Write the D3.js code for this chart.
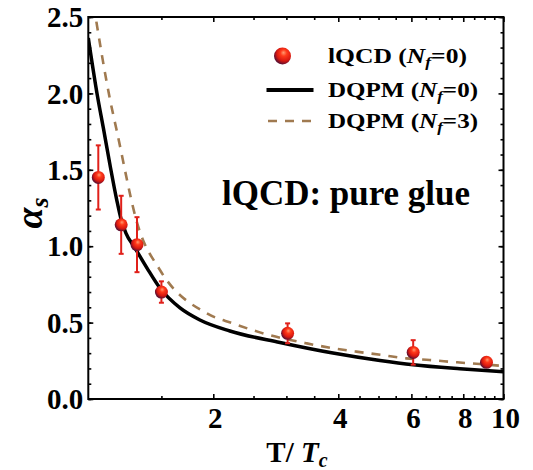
<!DOCTYPE html>
<html><head><meta charset="utf-8">
<script src="https://cdn.jsdelivr.net/npm/d3@7"></script>
<style>
html,body{margin:0;padding:0;background:#fff;}
</style></head>
<body>
<svg id="chart" width="533" height="470"></svg>
<script>
// ---- data ----
const lqcdT   = [1.057, 1.20, 1.31, 1.50, 3.02, 6.06, 9.10];
const lqcdA   = [1.45, 1.14, 1.01, 0.70, 0.43, 0.305, 0.24];
const lqcdErr = [0.21, 0.19, 0.18, 0.07, 0.065, 0.08, 0.02];

const dqpm0T = [1.00, 1.051, 1.087, 1.128, 1.171, 1.199, 1.232, 1.296, 1.385, 1.488, 1.663, 1.857, 2.193, 2.894, 3.883, 5.04, 6.06, 7.85, 10.0];
const dqpm0A = [2.363, 1.990, 1.774, 1.531, 1.302, 1.178, 1.086, 0.988, 0.857, 0.726, 0.596, 0.517, 0.445, 0.370, 0.301, 0.252, 0.224, 0.198, 0.179];

const dqpm3T = [1.03, 1.128, 1.17, 1.319, 1.488, 1.93, 2.23, 2.59, 3.36, 3.89, 4.42, 5.09, 5.83, 6.64, 7.73, 8.76, 10.0];
const dqpm3A = [2.58, 1.96, 1.76, 1.128, 0.844, 0.56, 0.495, 0.436, 0.364, 0.332, 0.31, 0.288, 0.266, 0.255, 0.24, 0.229, 0.216];

const xMajorTicks = [2, 4, 6, 8, 10];
const xMinorTicks = [1.5, 2.5, 3, 3.5, 4.5, 5, 5.5, 6.5, 7, 7.5, 8.5, 9, 9.5];
const yMajorTicks = [0, 0.5, 1.0, 1.5, 2.0, 2.5];
const yMinorTicks = d3.range(0, 2.51, 0.1);

const FONT = "Liberation Serif";

// ---- layout ----
const svg = d3.select("#chart");
const L = 88.3, R = 503.5, T = 17, B = 399;
const x = d3.scaleLog().domain([1, 10]).range([L, R]);
const y = d3.scaleLinear().domain([0, 2.5]).range([B, T]);

// defs
const defs = svg.append("defs");
defs.append("clipPath").attr("id","clip").append("rect")
  .attr("x", L).attr("y", T).attr("width", R - L).attr("height", B - T);
const grad = defs.append("radialGradient").attr("id","ball")
  .attr("cx","62%").attr("cy","38%").attr("r","62%").attr("fx","55%").attr("fy","30%");
grad.append("stop").attr("offset","0%").attr("stop-color","#ff9a70");
grad.append("stop").attr("offset","30%").attr("stop-color","#ff3a1a");
grad.append("stop").attr("offset","70%").attr("stop-color","#d81810");
grad.append("stop").attr("offset","100%").attr("stop-color","#601030");

// axes with inward ticks
function tickAxis(axisGen, tr, vals, size){
  svg.append("g").attr("transform", tr)
    .call(axisGen.tickValues(vals).tickSize(size).tickFormat(""))
    .call(g => g.select(".domain").remove())
    .call(g => g.selectAll("line").attr("stroke","#000").attr("stroke-width",1.6));
}
tickAxis(d3.axisTop(x), `translate(0,${B})`, xMajorTicks, 5);
tickAxis(d3.axisTop(x), `translate(0,${B})`, xMinorTicks, 3);
tickAxis(d3.axisBottom(x), `translate(0,${T})`, xMajorTicks, 5);
tickAxis(d3.axisBottom(x), `translate(0,${T})`, xMinorTicks, 3);
tickAxis(d3.axisRight(y), `translate(${L},0)`, yMajorTicks, 5);
tickAxis(d3.axisRight(y), `translate(${L},0)`, yMinorTicks, 3);
tickAxis(d3.axisLeft(y), `translate(${R},0)`, yMajorTicks, 5);
tickAxis(d3.axisLeft(y), `translate(${R},0)`, yMinorTicks, 3);

// tick labels
svg.append("g").selectAll("text").data(yMajorTicks).join("text")
  .attr("font-family", FONT).attr("font-weight","bold")
  .attr("x", L - 5).attr("y", d => y(d)).attr("dy","0.35em")
  .attr("text-anchor","end").attr("font-size",29)
  .text(d => d3.format(".1f")(d));
svg.append("g").selectAll("text").data(xMajorTicks).join("text")
  .attr("font-family", FONT).attr("font-weight","bold")
  .attr("x", d => x(d) + 2).attr("y", 428)
  .attr("text-anchor","middle").attr("font-size",29)
  .text(d => d);

// frame
svg.append("rect").attr("x",L).attr("y",T).attr("width",R-L).attr("height",B-T)
  .attr("fill","none").attr("stroke","#000").attr("stroke-width",2);

// curves
const plot = svg.append("g").attr("clip-path","url(#clip)");
const line = d3.line().x(d => x(d[0])).y(d => y(d[1])).curve(d3.curveMonotoneX);
plot.append("path").datum(d3.zip(dqpm3T, dqpm3A)).attr("d", line)
  .attr("fill","none").attr("stroke","#a07a50").attr("stroke-width",2.6)
  .attr("stroke-dasharray","9,8");
plot.append("path").datum(d3.zip(dqpm0T, dqpm0A)).attr("d", line)
  .attr("fill","none").attr("stroke","#000").attr("stroke-width",3.5);

// error bars + points
const pts = d3.zip(lqcdT, lqcdA, lqcdErr);
const eb = svg.append("g").attr("stroke","#e0201a").attr("stroke-width",2);
pts.forEach(([t,a,e]) => {
  eb.append("line").attr("x1",x(t)).attr("x2",x(t)).attr("y1",y(a+e)).attr("y2",y(a-e));
  eb.append("line").attr("x1",x(t)-2.5).attr("x2",x(t)+2.5).attr("y1",y(a+e)).attr("y2",y(a+e));
  eb.append("line").attr("x1",x(t)-2.5).attr("x2",x(t)+2.5).attr("y1",y(a-e)).attr("y2",y(a-e));
});
svg.append("g").selectAll("circle").data(pts).join("circle")
  .attr("cx", d => x(d[0])).attr("cy", d => y(d[1])).attr("r", 6.5)
  .attr("fill","url(#ball)");

// legend
const lg = svg.append("g");
lg.append("circle").attr("cx",282.5).attr("cy",56).attr("r",8.5).attr("fill","url(#ball)");
lg.append("line").attr("x1",266.5).attr("x2",313.5).attr("y1",90).attr("y2",90)
  .attr("stroke","#000").attr("stroke-width",4);
lg.append("line").attr("x1",268).attr("x2",314).attr("y1",121).attr("y2",121)
  .attr("stroke","#a07a50").attr("stroke-width",2.6).attr("stroke-dasharray","9,8");
const legendLabels = [["lQCD (", "=0)"], ["DQPM (", "=0)"], ["DQPM (", "=3)"]];
const legendY = [63, 97, 128];
const legendW = [139, 150, 150];
legendLabels.forEach((lab, i) => {
  const t = lg.append("text").attr("font-family", FONT).attr("font-weight","bold")
    .attr("x",328).attr("y",legendY[i]).attr("font-size",22)
    .attr("textLength", legendW[i]).attr("lengthAdjust","spacingAndGlyphs");
  t.append("tspan").text(lab[0]);
  t.append("tspan").attr("font-style","italic").text("N");
  t.append("tspan").attr("font-style","italic").attr("font-size",15).attr("dy",4).text("f");
  t.append("tspan").attr("dy",-4).text(lab[1]);
});

// annotation
svg.append("text").attr("font-family", FONT).attr("font-weight","bold")
  .attr("x",222).attr("y",205).attr("font-size",35)
  .attr("textLength",248).attr("lengthAdjust","spacingAndGlyphs")
  .text("lQCD: pure glue");

// axis titles
const xt = svg.append("text").attr("font-family", FONT).attr("font-weight","bold")
  .attr("x",297).attr("y",462).attr("text-anchor","middle").attr("font-size",29);
xt.append("tspan").text("T/ ");
xt.append("tspan").attr("font-style","italic").text("T");
xt.append("tspan").attr("font-style","italic").attr("font-size",20).attr("dy",5).text("c");

const yt = svg.append("text").attr("font-family", FONT).attr("font-weight","bold")
  .attr("transform","translate(42,213) rotate(-90)")
  .attr("text-anchor","middle").attr("font-size",38);
yt.append("tspan").attr("font-style","italic").text("α");
yt.append("tspan").attr("font-style","italic").attr("font-size",26).attr("dy",6).text("s");
</script>
</body></html>
